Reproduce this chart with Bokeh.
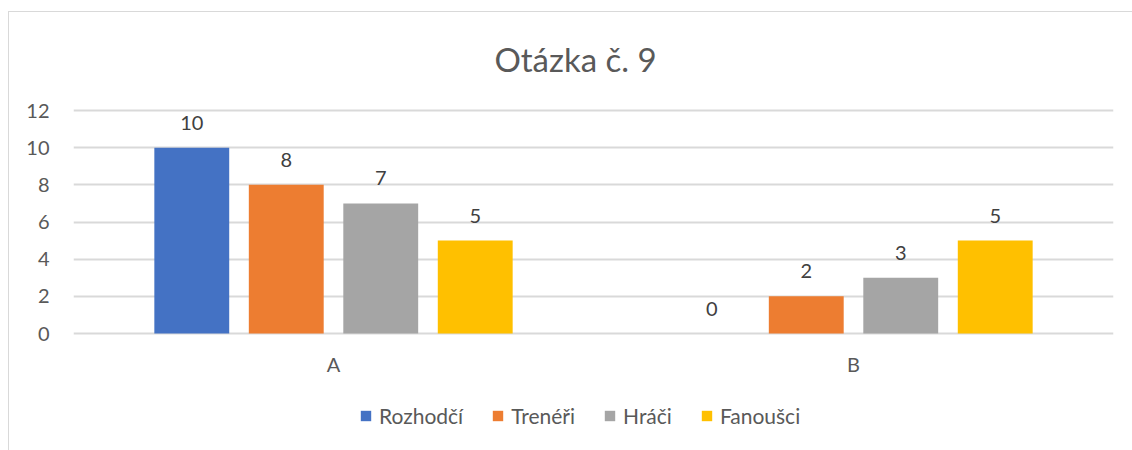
from bokeh.plotting import figure
from bokeh.models import (ColumnDataSource, FactorRange, LabelSet, Label, Legend, LegendItem,
                          Range1d, FixedTicker)
from bokeh.core.properties import value
from bokeh.transform import dodge
from bokeh.embed import file_html
from bokeh.resources import INLINE

title_text = "Otázka č. 9"
categories = ["A", "B"]
series = ["Rozhodčí", "Trenéři", "Hráči", "Fanoušci"]
rozhodci = [10, 0]
treneri = [8, 2]
hraci = [7, 3]
fanousci = [5, 5]
colors = ["#4472C4", "#ED7D31", "#A5A5A5", "#FFC000"]
y_ticks = [0, 2, 4, 6, 8, 10, 12]

FONT = "Lato"
TXT = "#595959"

src = ColumnDataSource(dict(cat=categories, zero=[0] * len(categories),
                            Rozhodci=rozhodci, Treneri=treneri,
                            Hraci=hraci, Fanousci=fanousci,
                            lRozhodci=[str(v) for v in rozhodci],
                            lTreneri=[str(v) for v in treneri],
                            lHraci=[str(v) for v in hraci],
                            lFanousci=[str(v) for v in fanousci]))
keys = ["Rozhodci", "Treneri", "Hraci", "Fanousci"]

# y range extended beyond the data so that title and legend sit inside the frame
p = figure(width=1124, height=439, x_range=FactorRange(*categories, range_padding=0),
           y_range=Range1d(-5.758, 17.274), output_backend="svg", toolbar_location=None,
           min_border_left=64, min_border_right=20, min_border_top=0, min_border_bottom=11)
p.margin = (11, 0, 0, 8)
p.styles = {"border-left": "1px solid #d9d9d9", "border-top": "1px solid #d9d9d9"}
p.outline_line_color = None

title = Label(x=0.9654, y=12, y_offset=52, text=title_text, text_align="center",
              text_baseline="middle", text_font=FONT, text_font_size="33px",
              text_color=TXT)
p.add_layout(title)

step = 0.1817
offsets = [-1.5 * step, -0.5 * step, 0.5 * step, 1.5 * step]
items = []
for k, name, c, off in zip(keys, series, colors, offsets):
    r = p.vbar(x=dodge("cat", off, range=p.x_range), top=k, width=0.144, source=src,
               fill_color=c, line_color=None)
    items.append(LegendItem(label=name, renderers=[r]))
    lbl = LabelSet(x=dodge("cat", off, range=p.x_range), y=k, text="l" + k, source=src,
                   text_align="center", text_baseline="alphabetic", y_offset=18,
                   text_font=value(FONT), text_font_size="20px", text_color="#404040")
    p.add_layout(lbl)

# category labels below the zero line
cat_lbl = LabelSet(x="cat", y="zero", text="cat", source=src, text_align="center",
                   text_baseline="middle", y_offset=-30, text_font=value(FONT),
                   text_font_size="20px", text_color=TXT)
p.add_layout(cat_lbl)

legend = Legend(items=items, orientation="horizontal", location=(286, 12),
                glyph_width=13, glyph_height=13, label_standoff=7, spacing=28,
                label_text_font=FONT, label_text_font_size="21px", label_text_color=TXT,
                border_line_color=None, background_fill_alpha=0, padding=0, margin=0)
p.add_layout(legend)

p.yaxis.ticker = FixedTicker(ticks=y_ticks)
p.yaxis.axis_line_color = None
p.yaxis.major_tick_line_color = None
p.yaxis.minor_tick_line_color = None
p.yaxis.major_label_standoff = 18
p.yaxis.major_label_text_font = FONT
p.yaxis.major_label_text_font_size = "20px"
p.yaxis.major_label_text_color = TXT

p.xaxis.visible = False

p.xgrid.grid_line_color = None
p.ygrid.ticker = FixedTicker(ticks=y_ticks)
p.ygrid.grid_line_color = "#d9d9d9"
p.ygrid.grid_line_width = 2

open("out.html", "w").write(file_html(p, INLINE))
